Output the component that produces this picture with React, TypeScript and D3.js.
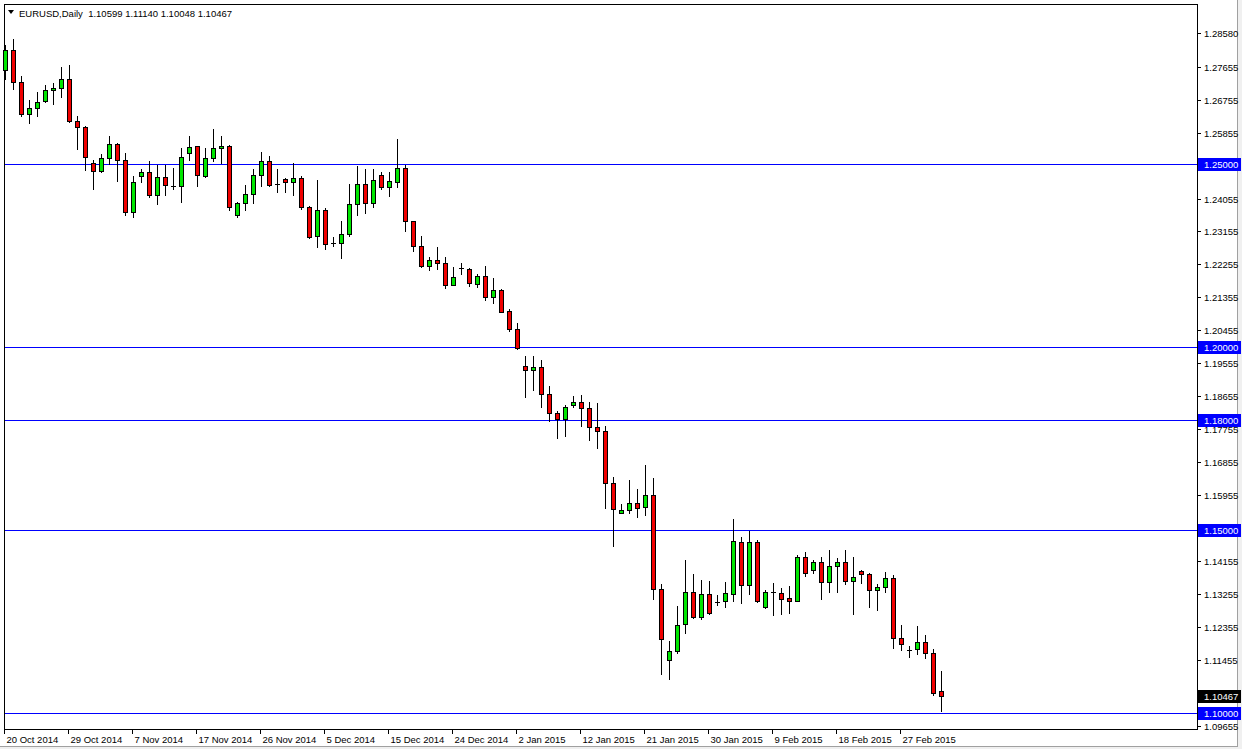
import { useEffect, useRef } from 'react';
import * as d3 from 'd3';

// EURUSD daily, 20 Oct 2014 .. 5 Mar 2015
const opens = [
  1.2758, 1.2810, 1.2724, 1.2637, 1.2652, 1.2672, 1.2703, 1.2708, 1.2733, 1.2616,
  1.2601, 1.2503, 1.2482, 1.2517, 1.2555, 1.2511, 1.2368, 1.2466, 1.2477, 1.2416,
  1.2465, 1.2441, 1.2440, 1.2529, 1.2548, 1.2468, 1.2516, 1.2544, 1.2550, 1.2361,
  1.2394, 1.2417, 1.2470, 1.2509, 1.2446, 1.2459, 1.2450, 1.2462, 1.2382, 1.2302,
  1.2375, 1.2284, 1.2284, 1.2309, 1.2391, 1.2446, 1.2394, 1.2471, 1.2436, 1.2451,
  1.2489, 1.2343, 1.2275, 1.2220, 1.2238, 1.2229, 1.2169, 1.2216, 1.2213, 1.2172,
  1.2194, 1.2137, 1.2156, 1.2098, 1.2049, 1.1949, 1.1937, 1.1945, 1.1871, 1.1819,
  1.1803, 1.1841, 1.1850, 1.1833, 1.1781, 1.1771, 1.1627, 1.1546, 1.1554, 1.1573,
  1.1563, 1.1596, 1.1338, 1.1144, 1.1169, 1.1242, 1.1331, 1.1263, 1.1324, 1.1304,
  1.1306, 1.1326, 1.1467, 1.1349, 1.1467, 1.1288, 1.1329, 1.1327, 1.1314, 1.1307,
  1.1426, 1.1390, 1.1411, 1.1358, 1.1402, 1.1411, 1.1361, 1.1387, 1.1379, 1.1335,
  1.1344, 1.1368, 1.1206, 1.1173, 1.1174, 1.1194, 1.1163, 1.10599,
];
const highs = [
  1.2824, 1.2840, 1.2739, 1.2676, 1.2696, 1.2715, 1.2722, 1.2765, 1.2769, 1.2630,
  1.2603, 1.2512, 1.2528, 1.2575, 1.2558, 1.2530, 1.2468, 1.2487, 1.2507, 1.2496,
  1.2496, 1.2489, 1.2544, 1.2575, 1.2550, 1.2544, 1.2596, 1.2575, 1.2552, 1.2397,
  1.2443, 1.2487, 1.2532, 1.2523, 1.2487, 1.2462, 1.2503, 1.2466, 1.2384, 1.2455,
  1.2380, 1.2300, 1.2343, 1.2446, 1.2494, 1.2485, 1.2485, 1.2477, 1.2477, 1.2567,
  1.2498, 1.2345, 1.2302, 1.2247, 1.2272, 1.2245, 1.2218, 1.2230, 1.2215, 1.2198,
  1.2220, 1.2188, 1.2157, 1.2104, 1.2066, 1.1974, 1.1974, 1.1965, 1.1894, 1.1824,
  1.1842, 1.1867, 1.1869, 1.1850, 1.1846, 1.1785, 1.1645, 1.1571, 1.1637, 1.1613,
  1.1678, 1.1642, 1.1352, 1.1197, 1.1292, 1.1418, 1.1379, 1.1363, 1.1361, 1.1322,
  1.1358, 1.1530, 1.1481, 1.1496, 1.1472, 1.1335, 1.1354, 1.1341, 1.1347, 1.1431,
  1.1440, 1.1418, 1.1426, 1.1446, 1.1422, 1.1446, 1.1426, 1.1391, 1.1381, 1.1353,
  1.1385, 1.1376, 1.1240, 1.1183, 1.1238, 1.1213, 1.1174, 1.11140,
];
const lows = [
  1.2731, 1.2706, 1.2630, 1.2611, 1.2630, 1.2668, 1.2665, 1.2683, 1.2615, 1.2541,
  1.2484, 1.2432, 1.2477, 1.2500, 1.2453, 1.2361, 1.2354, 1.2450, 1.2411, 1.2391,
  1.2416, 1.2432, 1.2397, 1.2511, 1.2439, 1.2463, 1.2509, 1.2502, 1.2373, 1.2354,
  1.2375, 1.2394, 1.2441, 1.2440, 1.2423, 1.2423, 1.2416, 1.2377, 1.2298, 1.2272,
  1.2268, 1.2277, 1.2242, 1.2304, 1.2361, 1.2365, 1.2382, 1.2432, 1.2412, 1.2436,
  1.2318, 1.2261, 1.2218, 1.2209, 1.2213, 1.2161, 1.2168, 1.2200, 1.2166, 1.2163,
  1.2128, 1.2119, 1.2095, 1.2043, 1.1995, 1.1862, 1.1883, 1.1835, 1.1798, 1.1750,
  1.1757, 1.1837, 1.1783, 1.1746, 1.1723, 1.1561, 1.1455, 1.1546, 1.1547, 1.1536,
  1.1542, 1.1311, 1.1107, 1.1092, 1.1165, 1.1219, 1.1260, 1.1256, 1.1270, 1.1295,
  1.1288, 1.1306, 1.1299, 1.1326, 1.1303, 1.1286, 1.1267, 1.1270, 1.1274, 1.1306,
  1.1373, 1.1383, 1.1312, 1.1331, 1.1329, 1.1352, 1.1271, 1.1354, 1.1290, 1.1281,
  1.1331, 1.1178, 1.1171, 1.1154, 1.1162, 1.1149, 1.1049, 1.10048,
];
const closes = [
  1.2810, 1.2724, 1.2637, 1.2654, 1.2668, 1.2703, 1.2708, 1.2733, 1.2616, 1.2601,
  1.2518, 1.2482, 1.2517, 1.2555, 1.2511, 1.2368, 1.2450, 1.2477, 1.2414, 1.2465,
  1.2443, 1.2441, 1.2520, 1.2547, 1.2470, 1.2517, 1.2544, 1.2550, 1.2382, 1.2394,
  1.2417, 1.2470, 1.2509, 1.2443, 1.2446, 1.2450, 1.2462, 1.2382, 1.2300, 1.2375,
  1.2282, 1.2284, 1.2309, 1.2391, 1.2446, 1.2394, 1.2457, 1.2436, 1.2452, 1.2489,
  1.2343, 1.2275, 1.2222, 1.2238, 1.2230, 1.2169, 1.2192, 1.2216, 1.2175, 1.2194,
  1.2137, 1.2156, 1.2096, 1.2049, 1.1997, 1.1937, 1.1946, 1.1871, 1.1819, 1.1803,
  1.1837, 1.1850, 1.1832, 1.1780, 1.1769, 1.1627, 1.1557, 1.1554, 1.1573, 1.1561,
  1.1595, 1.1338, 1.1201, 1.1169, 1.1240, 1.1331, 1.1263, 1.1324, 1.1274, 1.1304,
  1.1327, 1.1470, 1.1349, 1.1467, 1.1306, 1.1330, 1.1329, 1.1312, 1.1307, 1.1426,
  1.1382, 1.1412, 1.1358, 1.1402, 1.1411, 1.1361, 1.1370, 1.1379, 1.1335, 1.1344,
  1.1368, 1.1206, 1.1188, 1.1173, 1.1194, 1.1163, 1.1054, 1.10467,
];

const dateLabels = [
  '20 Oct 2014', '29 Oct 2014', '7 Nov 2014', '17 Nov 2014', '26 Nov 2014',
  '5 Dec 2014', '15 Dec 2014', '24 Dec 2014', '2 Jan 2015', '12 Jan 2015',
  '21 Jan 2015', '30 Jan 2015', '9 Feb 2015', '18 Feb 2015', '27 Feb 2015',
];
const dateLabelBars = [0, 8, 16, 24, 32, 40, 48, 56, 64, 72, 80, 88, 96, 104, 112];

const priceTicks = [
  '1.28580', '1.27655', '1.26755', '1.25855', '1.24055', '1.23155', '1.22255',
  '1.21355', '1.20455', '1.19555', '1.18655', '1.17755', '1.16855', '1.15955',
  '1.14155', '1.13255', '1.12355', '1.11455', '1.09655',
];
const levelLines = ['1.25000', '1.20000', '1.18000', '1.15000', '1.10000'];
const lastPrice = '1.10467';
const headerText = 'EURUSD,Daily  1.10599 1.11140 1.10048 1.10467';

const priceMin = 1.0956;
const priceMax = 1.2937;

export default function App() {
  const ref = useRef<SVGSVGElement>(null);

  useEffect(() => {
    if (!ref.current) return;
    const svg = d3.select(ref.current);
    svg.selectAll('*').remove();

    const W = 1242, H = 749;
    const left = 4, top = 4, right = 1197, bottom = 729;
    const font = '"Liberation Sans", Arial, sans-serif';
    const fs = '9.5px';

    const x = d3.scaleLinear().domain([0, opens.length - 1]).range([5, 941]);
    const y = d3.scaleLinear().domain([priceMin, priceMax]).range([bottom, top]);

    // window background
    svg.append('rect').attr('width', W).attr('height', H).attr('fill', '#f0f0f0');
    svg.append('rect')
      .attr('x', 0).attr('y', 0)
      .attr('width', 1237).attr('height', 746)
      .attr('fill', '#ffffff');
    svg.append('line')
      .attr('x1', 1237.5).attr('x2', 1237.5).attr('y1', 0).attr('y2', 746)
      .attr('stroke', '#a0a0a0');
    svg.append('line')
      .attr('x1', 0).attr('x2', 1238).attr('y1', 746.5).attr('y2', 746.5)
      .attr('stroke', '#a0a0a0');

    // plot frame
    svg.append('rect')
      .attr('x', left + 0.5).attr('y', top + 0.5)
      .attr('width', right - left).attr('height', bottom - top)
      .attr('fill', '#ffffff')
      .attr('stroke', '#000000');

    const plot = svg.append('g').attr('shape-rendering', 'crispEdges');

    // horizontal levels
    levelLines.forEach(v => {
      const yy = Math.round(y(+v)) + 0.5;
      plot.append('line')
        .attr('x1', left + 1).attr('x2', right)
        .attr('y1', yy).attr('y2', yy)
        .attr('stroke', '#0000ff')
        .attr('stroke-width', 1);
    });

    // candles
    opens.forEach((o, i) => {
      const c = closes[i];
      const cx = Math.round(x(i));
      const yH = Math.round(y(highs[i]));
      const yL = Math.round(y(lows[i]));
      const yT = Math.round(y(Math.max(o, c)));
      const yB = Math.round(y(Math.min(o, c)));

      plot.append('line')
        .attr('x1', cx + 0.5).attr('x2', cx + 0.5)
        .attr('y1', yH).attr('y2', yL + 1)
        .attr('stroke', '#000000');

      if (yB - yT < 1) {
        plot.append('line')
          .attr('x1', cx - 2).attr('x2', cx + 3)
          .attr('y1', yT + 0.5).attr('y2', yT + 0.5)
          .attr('stroke', '#000000');
      } else {
        plot.append('rect')
          .attr('x', cx - 1.5).attr('y', yT + 0.5)
          .attr('width', 4).attr('height', yB - yT)
          .attr('fill', c >= o ? '#00e600' : '#f00000')
          .attr('stroke', '#000000');
      }
    });

    // header
    svg.append('path')
      .attr('d', 'M8,10 L14,10 L11,14 Z')
      .attr('fill', '#000000');
    svg.append('text')
      .attr('x', 19).attr('y', 17)
      .style('font-family', font).style('font-size', fs)
      .attr('fill', '#000000')
      .attr('xml:space', 'preserve')
      .text(headerText);

    // right price axis
    const axis = svg.append('g');
    priceTicks.forEach(t => {
      const yy = Math.round(y(+t));
      axis.append('line')
        .attr('x1', right).attr('x2', right + 4)
        .attr('y1', yy + 0.5).attr('y2', yy + 0.5)
        .attr('stroke', '#000000');
      axis.append('text')
        .attr('x', right + 7).attr('y', yy + 3.5)
        .style('font-family', font).style('font-size', fs)
        .attr('fill', '#000000')
        .text(t);
    });

    const tag = (t: string, bg: string) => {
      const yy = Math.round(y(+t));
      axis.append('rect')
        .attr('x', right + 1).attr('y', yy - 6)
        .attr('width', 43).attr('height', 13)
        .attr('fill', bg);
      axis.append('text')
        .attr('x', right + 7).attr('y', yy + 3.5)
        .style('font-family', font).style('font-size', fs)
        .attr('fill', '#ffffff')
        .text(t);
    };
    levelLines.forEach(t => tag(t, '#0000ff'));
    tag(lastPrice, '#000000');

    // bottom date axis
    dateLabels.forEach((d, k) => {
      const xx = Math.round(x(dateLabelBars[k])) - 0.5;
      svg.append('line')
        .attr('x1', xx).attr('x2', xx)
        .attr('y1', bottom).attr('y2', bottom + 5)
        .attr('stroke', '#000000');
      svg.append('text')
        .attr('x', xx + 2).attr('y', 743)
        .style('font-family', font).style('font-size', fs)
        .attr('fill', '#000000')
        .text(d);
    });
  }, []);

  return (
    <div style={{ position: 'fixed', left: 0, top: 0, width: 1242, height: 749 }}>
      <svg ref={ref} width={1242} height={749} style={{ display: 'block' }} />
    </div>
  );
}
